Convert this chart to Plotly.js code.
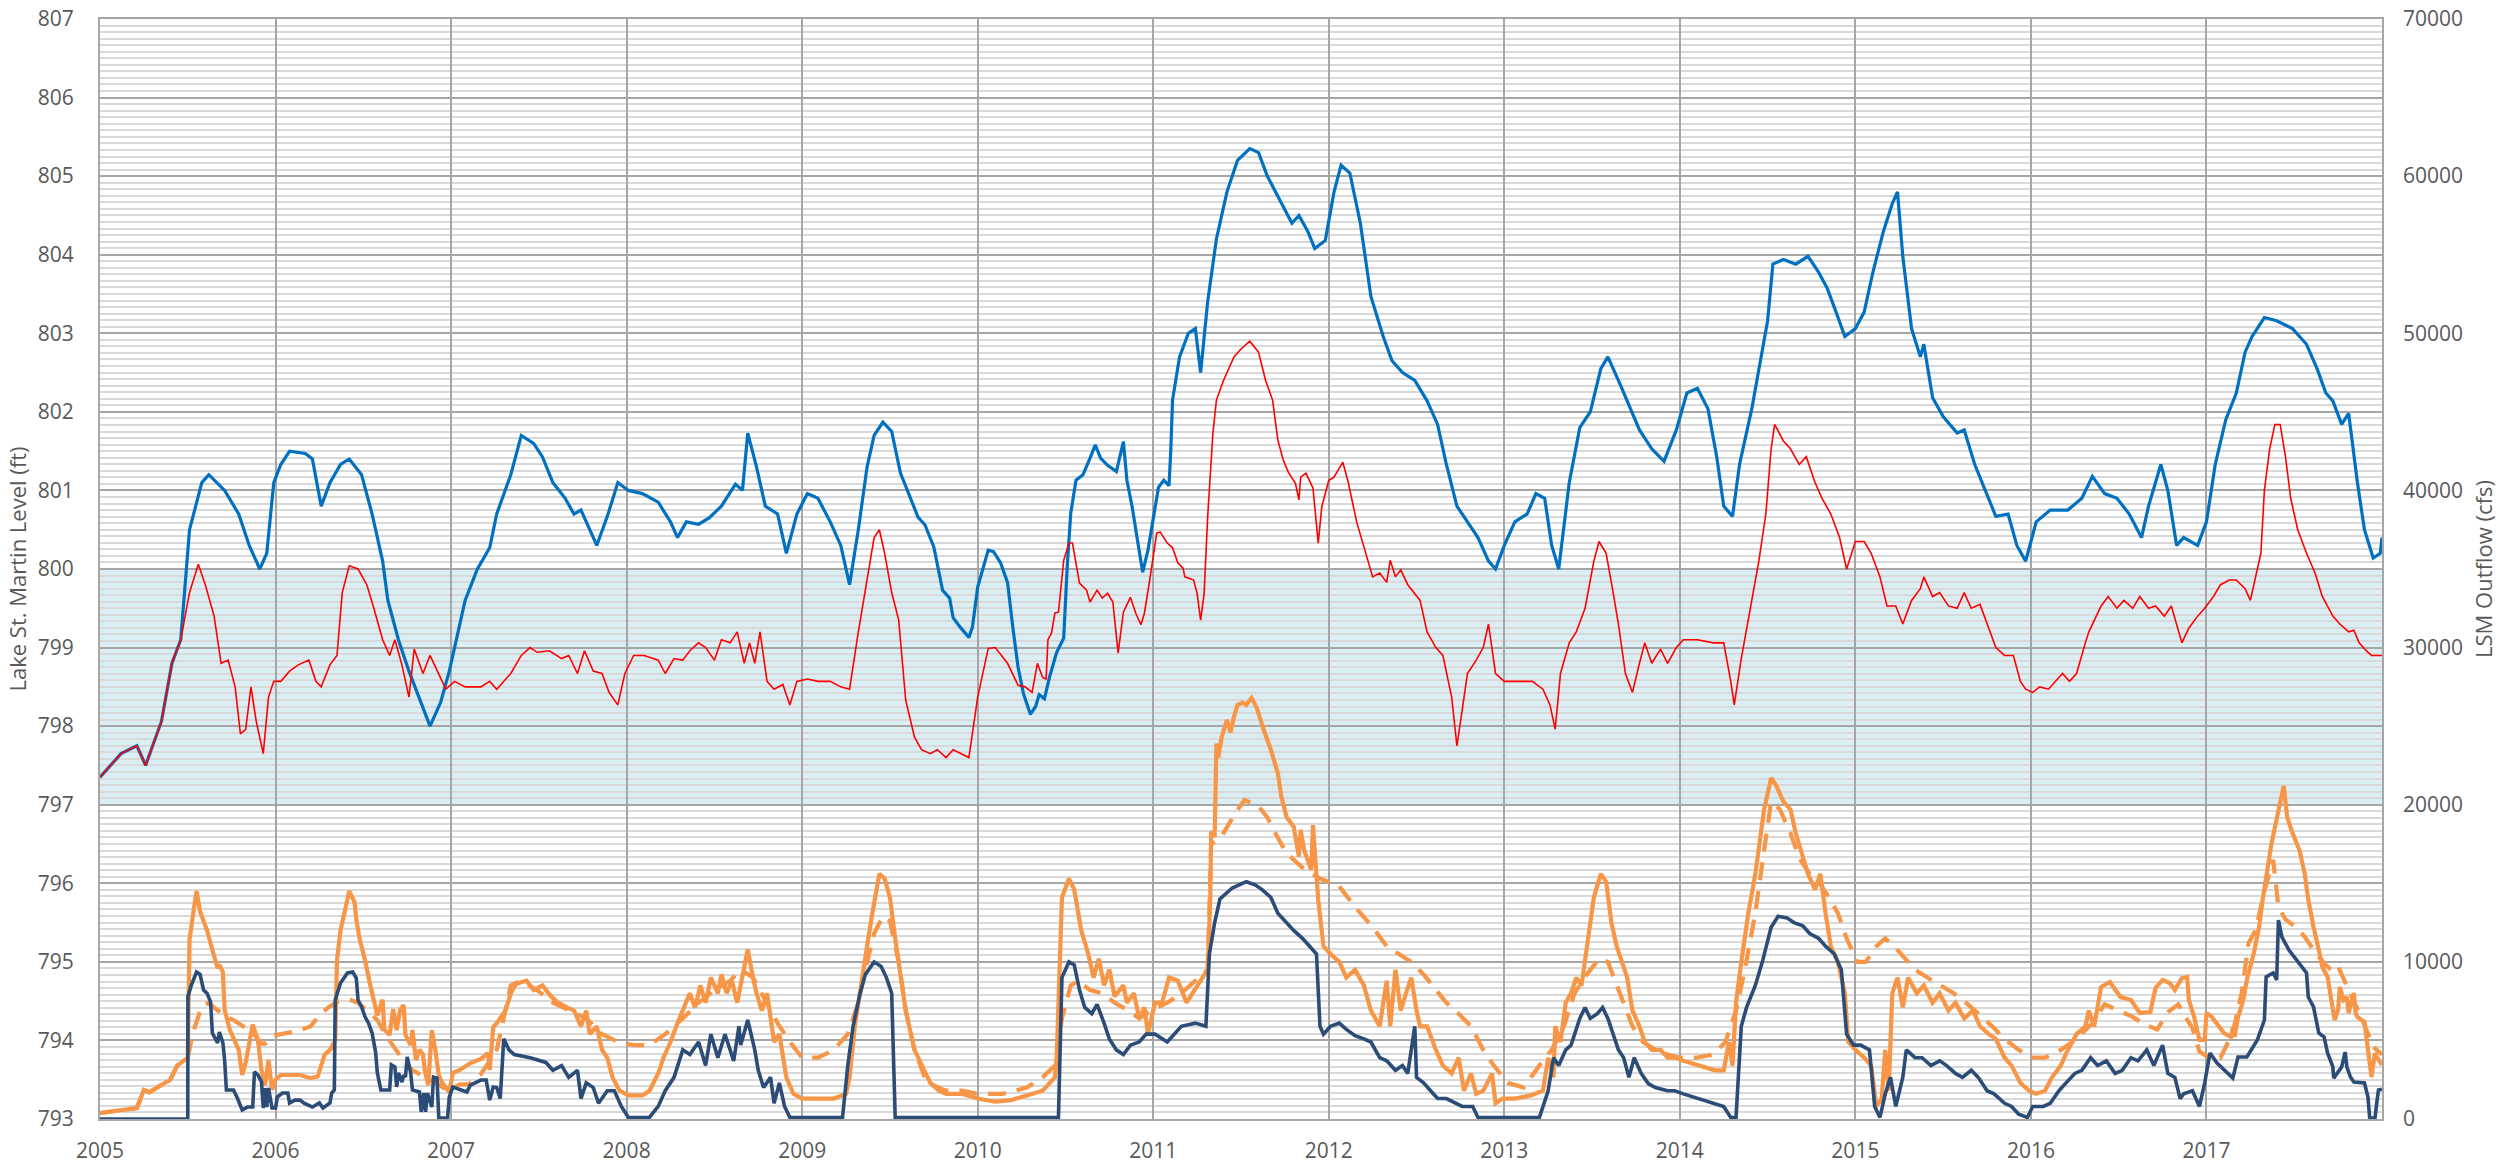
<!DOCTYPE html>
<html>
<head>
<meta charset="utf-8">
<script src="https://cdn.plot.ly/plotly-3.0.1.min.js"></script>
<style>
html,body{margin:0;padding:0;background:#fff;}
#chart{width:2513px;height:1176px;}
</style>
</head>
<body>
<div id="chart"></div>
<script>
// ---------- Data (decimal years; level in ft, outflow in cfs) ----------
const yearTicks = [2005,2006,2007,2008,2009,2010,2011,2012,2013,2014,2015,2016,2017];

// Lake St. Martin level – blue series
const blueT = [2005.00,2005.12,2005.21,2005.26,2005.30,2005.35,2005.41,2005.46,2005.51,2005.58,2005.62,2005.71,2005.79,2005.85,2005.91,2005.95,2005.99,2006.03,2006.08,2006.17,2006.21,2006.26,2006.31,2006.37,2006.42,2006.49,2006.55,2006.61,2006.64,2006.70,2006.76,2006.83,2006.88,2006.94,2006.99,2007.08,2007.15,2007.22,2007.26,2007.34,2007.40,2007.47,2007.52,2007.58,2007.65,2007.70,2007.74,2007.79,2007.83,2007.89,2007.95,2008.01,2008.09,2008.18,2008.25,2008.29,2008.34,2008.41,2008.47,2008.54,2008.62,2008.66,2008.69,2008.74,2008.79,2008.86,2008.91,2008.97,2009.03,2009.09,2009.16,2009.22,2009.27,2009.32,2009.37,2009.41,2009.46,2009.51,2009.56,2009.66,2009.70,2009.75,2009.80,2009.84,2009.86,2009.90,2009.95,2009.97,2010.00,2010.06,2010.09,2010.13,2010.17,2010.20,2010.23,2010.26,2010.30,2010.33,2010.35,2010.38,2010.41,2010.45,2010.49,2010.51,2010.53,2010.56,2010.60,2010.64,2010.67,2010.70,2010.74,2010.79,2010.81,2010.83,2010.85,2010.88,2010.91,2010.94,2010.97,2011.00,2011.03,2011.06,2011.09,2011.10,2011.11,2011.15,2011.20,2011.24,2011.27,2011.31,2011.36,2011.42,2011.48,2011.55,2011.60,2011.65,2011.72,2011.79,2011.83,2011.88,2011.92,2011.98,2012.03,2012.07,2012.12,2012.18,2012.24,2012.31,2012.36,2012.42,2012.49,2012.56,2012.62,2012.67,2012.73,2012.79,2012.85,2012.91,2012.95,2013.00,2013.06,2013.13,2013.18,2013.23,2013.27,2013.31,2013.37,2013.43,2013.49,2013.55,2013.59,2013.66,2013.70,2013.77,2013.84,2013.91,2013.98,2014.04,2014.10,2014.16,2014.21,2014.25,2014.30,2014.34,2014.41,2014.46,2014.50,2014.53,2014.59,2014.66,2014.73,2014.79,2014.84,2014.89,2014.94,2015.00,2015.05,2015.10,2015.16,2015.21,2015.24,2015.27,2015.32,2015.37,2015.39,2015.44,2015.50,2015.58,2015.62,2015.68,2015.76,2015.80,2015.87,2015.92,2015.97,2016.03,2016.11,2016.21,2016.29,2016.35,2016.42,2016.49,2016.56,2016.63,2016.67,2016.74,2016.78,2016.83,2016.87,2016.95,2017.00,2017.05,2017.11,2017.17,2017.22,2017.26,2017.33,2017.40,2017.49,2017.57,2017.63,2017.68,2017.72,2017.77,2017.81,2017.86,2017.90,2017.95,2017.99,2018.00];
const blueLevel = [797.35,797.65,797.75,797.50,797.75,798.06,798.80,799.10,800.50,801.10,801.20,801.00,800.70,800.30,800.00,800.20,801.10,801.33,801.50,801.47,801.40,800.80,801.10,801.33,801.40,801.20,800.70,800.10,799.60,799.10,798.70,798.30,798.00,798.30,798.70,799.60,800.00,800.27,800.70,801.20,801.70,801.60,801.43,801.10,800.90,800.70,800.75,800.50,800.30,800.67,801.10,801.00,800.96,800.85,800.60,800.40,800.60,800.57,800.65,800.80,801.08,801.00,801.73,801.30,800.80,800.70,800.20,800.70,800.96,800.90,800.60,800.30,799.80,800.50,801.30,801.70,801.87,801.75,801.22,800.66,800.56,800.28,799.73,799.63,799.38,799.26,799.13,799.26,799.77,800.24,800.22,800.08,799.83,799.26,798.75,798.42,798.15,798.25,798.40,798.35,798.63,798.94,799.12,800.03,800.71,801.13,801.20,801.41,801.58,801.41,801.32,801.24,801.45,801.62,801.13,800.79,800.37,799.96,800.24,800.62,801.04,801.13,801.06,801.51,802.15,802.70,803.00,803.06,802.50,803.40,804.20,804.80,805.20,805.35,805.30,805.00,804.70,804.40,804.50,804.30,804.08,804.18,804.80,805.14,805.04,804.40,803.47,802.96,802.65,802.50,802.40,802.14,801.84,801.33,800.80,800.60,800.40,800.10,800.00,800.30,800.60,800.70,800.96,800.90,800.30,800.00,801.10,801.80,802.00,802.55,802.70,802.35,802.14,801.77,801.53,801.37,801.77,802.24,802.30,802.04,801.43,800.80,800.67,801.33,802.04,802.65,803.16,803.88,803.94,803.88,803.98,803.78,803.57,803.27,802.96,803.06,803.27,803.78,804.30,804.65,804.80,803.98,803.06,802.70,802.86,802.18,801.94,801.73,801.77,801.33,800.90,800.67,800.70,800.30,800.10,800.60,800.75,800.75,800.90,801.18,800.96,800.90,800.70,800.40,800.80,801.33,801.00,800.30,800.40,800.30,800.60,801.33,801.90,802.24,802.76,802.96,803.20,803.16,803.06,802.86,802.55,802.24,802.14,801.84,801.98,801.10,800.50,800.14,800.20,800.40];

// Lake St. Martin level – red series
const redT = [2005.00,2005.12,2005.21,2005.26,2005.30,2005.35,2005.41,2005.46,2005.51,2005.56,2005.60,2005.65,2005.69,2005.73,2005.77,2005.80,2005.83,2005.86,2005.89,2005.93,2005.96,2005.99,2006.03,2006.08,2006.13,2006.19,2006.23,2006.26,2006.31,2006.35,2006.38,2006.42,2006.47,2006.52,2006.56,2006.61,2006.65,2006.68,2006.72,2006.76,2006.79,2006.84,2006.88,2006.93,2006.97,2007.02,2007.08,2007.17,2007.22,2007.26,2007.34,2007.40,2007.45,2007.49,2007.56,2007.63,2007.67,2007.72,2007.76,2007.81,2007.86,2007.90,2007.95,2007.99,2008.04,2008.10,2008.18,2008.22,2008.27,2008.32,2008.36,2008.41,2008.45,2008.50,2008.54,2008.59,2008.63,2008.67,2008.70,2008.73,2008.76,2008.80,2008.84,2008.89,2008.93,2008.97,2009.03,2009.09,2009.16,2009.22,2009.27,2009.32,2009.36,2009.41,2009.44,2009.47,2009.51,2009.55,2009.59,2009.64,2009.68,2009.73,2009.77,2009.82,2009.86,2009.91,2009.95,2010.00,2010.06,2010.10,2010.17,2010.23,2010.27,2010.31,2010.34,2010.37,2010.39,2010.40,2010.42,2010.44,2010.46,2010.49,2010.52,2010.54,2010.58,2010.62,2010.64,2010.68,2010.71,2010.74,2010.77,2010.80,2010.83,2010.87,2010.90,2010.93,2010.95,2010.98,2011.02,2011.04,2011.08,2011.11,2011.14,2011.17,2011.18,2011.23,2011.25,2011.27,2011.29,2011.31,2011.34,2011.36,2011.40,2011.46,2011.50,2011.55,2011.60,2011.64,2011.68,2011.71,2011.74,2011.77,2011.81,2011.83,2011.84,2011.87,2011.91,2011.94,2011.96,2012.00,2012.03,2012.08,2012.11,2012.16,2012.21,2012.25,2012.29,2012.33,2012.35,2012.38,2012.41,2012.45,2012.52,2012.56,2012.61,2012.65,2012.70,2012.73,2012.76,2012.79,2012.84,2012.88,2012.91,2012.95,2013.00,2013.06,2013.16,2013.22,2013.26,2013.29,2013.32,2013.37,2013.41,2013.46,2013.51,2013.54,2013.58,2013.62,2013.65,2013.69,2013.73,2013.77,2013.80,2013.84,2013.89,2013.93,2013.98,2014.02,2014.10,2014.19,2014.25,2014.29,2014.31,2014.35,2014.40,2014.45,2014.49,2014.52,2014.54,2014.59,2014.63,2014.68,2014.72,2014.77,2014.81,2014.86,2014.91,2014.95,2015.00,2015.05,2015.09,2015.14,2015.18,2015.23,2015.27,2015.32,2015.37,2015.39,2015.44,2015.48,2015.53,2015.58,2015.62,2015.66,2015.71,2015.76,2015.80,2015.85,2015.90,2015.94,2015.97,2016.01,2016.05,2016.10,2016.14,2016.18,2016.22,2016.26,2016.31,2016.33,2016.40,2016.44,2016.49,2016.53,2016.58,2016.62,2016.67,2016.71,2016.76,2016.80,2016.86,2016.90,2016.95,2016.99,2017.04,2017.08,2017.13,2017.17,2017.22,2017.25,2017.28,2017.31,2017.33,2017.36,2017.39,2017.42,2017.45,2017.48,2017.52,2017.57,2017.62,2017.66,2017.72,2017.76,2017.81,2017.84,2017.87,2017.91,2017.94,2018.00];
const redLevel = [797.35,797.65,797.75,797.50,797.75,798.06,798.80,799.10,799.70,800.06,799.80,799.40,798.80,798.84,798.50,797.90,797.96,798.50,798.06,797.65,798.37,798.57,798.57,798.70,798.78,798.84,798.57,798.50,798.78,798.90,799.70,800.04,800.00,799.80,799.50,799.10,798.90,799.10,798.78,798.37,798.98,798.67,798.90,798.67,798.47,798.57,798.50,798.50,798.57,798.47,798.67,798.90,799.00,798.94,798.96,798.86,798.90,798.67,798.96,798.70,798.67,798.43,798.27,798.67,798.90,798.90,798.84,798.67,798.86,798.84,798.96,799.06,799.00,798.84,799.10,799.06,799.20,798.80,799.06,798.80,799.20,798.57,798.47,798.53,798.27,798.57,798.60,798.57,798.57,798.50,798.47,799.20,799.76,800.40,800.50,800.20,799.70,799.35,798.33,797.86,797.70,797.65,797.70,797.60,797.70,797.65,797.60,798.37,798.99,799.00,798.80,798.52,798.50,798.43,798.80,798.62,798.60,799.10,799.18,799.44,799.45,800.11,800.33,800.33,799.82,799.73,799.58,799.73,799.63,799.69,799.58,798.93,799.45,799.64,799.44,799.29,799.44,799.86,800.46,800.47,800.33,800.27,800.08,800.01,799.90,799.86,799.69,799.35,799.69,800.66,801.73,802.15,802.40,802.70,802.80,802.90,802.76,802.40,802.15,801.64,801.39,801.23,801.09,800.88,801.17,801.22,801.03,800.33,800.79,801.13,801.17,801.36,801.11,800.59,800.20,799.90,799.95,799.83,800.11,799.90,799.99,799.80,799.60,799.20,799.00,798.90,798.37,797.75,798.20,798.67,798.84,799.00,799.30,798.67,798.57,798.57,798.57,798.47,798.27,797.96,798.67,799.06,799.20,799.50,800.10,800.35,800.20,799.70,799.30,798.67,798.43,798.80,799.06,798.80,798.98,798.80,799.00,799.10,799.10,799.06,799.06,798.57,798.27,798.86,799.50,800.10,800.70,801.53,801.84,801.63,801.53,801.33,801.43,801.10,800.90,800.70,800.40,800.00,800.35,800.35,800.20,799.90,799.53,799.53,799.30,799.60,799.75,799.90,799.65,799.70,799.53,799.50,799.70,799.50,799.55,799.25,799.00,798.90,798.90,798.57,798.47,798.43,798.50,798.47,798.57,798.67,798.57,798.67,799.06,799.20,799.53,799.65,799.50,799.60,799.50,799.65,799.50,799.53,799.40,799.53,799.06,799.25,799.40,799.50,799.65,799.80,799.86,799.86,799.75,799.60,799.90,800.20,801.00,801.53,801.84,801.84,801.43,800.90,800.50,800.20,799.94,799.65,799.40,799.30,799.20,799.22,799.06,798.96,798.90,798.90];

// LSM outflow – orange solid series
const orangeT = [2005.00,2005.21,2005.25,2005.28,2005.40,2005.44,2005.50,2005.51,2005.53,2005.55,2005.57,2005.61,2005.64,2005.66,2005.67,2005.68,2005.70,2005.71,2005.74,2005.79,2005.81,2005.83,2005.87,2005.90,2005.92,2005.94,2005.96,2005.98,2006.00,2006.03,2006.14,2006.20,2006.24,2006.28,2006.31,2006.34,2006.35,2006.37,2006.40,2006.42,2006.45,2006.46,2006.48,2006.51,2006.54,2006.57,2006.58,2006.61,2006.62,2006.65,2006.67,2006.69,2006.71,2006.73,2006.74,2006.77,2006.78,2006.80,2006.82,2006.84,2006.85,2006.87,2006.89,2006.91,2006.93,2006.95,2006.99,2007.01,2007.05,2007.11,2007.17,2007.21,2007.22,2007.24,2007.26,2007.31,2007.34,2007.37,2007.43,2007.47,2007.52,2007.57,2007.61,2007.66,2007.70,2007.74,2007.77,2007.79,2007.83,2007.86,2007.89,2007.92,2007.96,2008.01,2008.09,2008.13,2008.18,2008.21,2008.25,2008.29,2008.32,2008.36,2008.39,2008.42,2008.45,2008.48,2008.52,2008.54,2008.57,2008.60,2008.63,2008.66,2008.69,2008.72,2008.74,2008.77,2008.80,2008.84,2008.87,2008.91,2008.95,2009.00,2009.18,2009.25,2009.27,2009.30,2009.34,2009.37,2009.40,2009.44,2009.47,2009.50,2009.53,2009.56,2009.59,2009.64,2009.68,2009.73,2009.78,2009.82,2009.91,2010.00,2010.10,2010.19,2010.28,2010.37,2010.44,2010.45,2010.48,2010.52,2010.55,2010.59,2010.63,2010.66,2010.69,2010.72,2010.75,2010.78,2010.83,2010.85,2010.89,2010.92,2010.95,2010.97,2011.01,2011.05,2011.09,2011.14,2011.19,2011.25,2011.31,2011.325,2011.33,2011.35,2011.36,2011.37,2011.39,2011.42,2011.44,2011.46,2011.48,2011.51,2011.53,2011.56,2011.59,2011.63,2011.67,2011.71,2011.73,2011.76,2011.80,2011.83,2011.84,2011.86,2011.88,2011.90,2011.91,2011.93,2011.94,2011.97,2012.01,2012.06,2012.10,2012.15,2012.20,2012.24,2012.29,2012.33,2012.35,2012.38,2012.41,2012.44,2012.47,2012.50,2012.52,2012.56,2012.61,2012.65,2012.70,2012.74,2012.77,2012.81,2012.84,2012.88,2012.93,2012.95,2012.99,2013.06,2013.15,2013.22,2013.25,2013.28,2013.29,2013.32,2013.35,2013.38,2013.41,2013.44,2013.47,2013.51,2013.55,2013.58,2013.61,2013.64,2013.67,2013.70,2013.73,2013.77,2013.80,2013.84,2013.89,2013.93,2013.98,2014.02,2014.11,2014.20,2014.25,2014.28,2014.30,2014.32,2014.35,2014.39,2014.43,2014.48,2014.52,2014.55,2014.59,2014.63,2014.66,2014.70,2014.73,2014.77,2014.80,2014.83,2014.86,2014.90,2014.94,2014.96,2015.00,2015.05,2015.09,2015.12,2015.15,2015.17,2015.19,2015.21,2015.24,2015.27,2015.30,2015.35,2015.39,2015.44,2015.48,2015.53,2015.57,2015.62,2015.67,2015.71,2015.76,2015.80,2015.85,2015.89,2015.94,2015.99,2016.03,2016.08,2016.12,2016.17,2016.21,2016.26,2016.31,2016.33,2016.36,2016.40,2016.45,2016.51,2016.57,2016.62,2016.68,2016.71,2016.75,2016.79,2016.82,2016.86,2016.89,2016.90,2016.93,2016.96,2016.99,2017.00,2017.03,2017.10,2017.14,2017.15,2017.16,2017.18,2017.21,2017.23,2017.27,2017.30,2017.32,2017.37,2017.41,2017.44,2017.46,2017.49,2017.53,2017.56,2017.58,2017.60,2017.61,2017.64,2017.66,2017.69,2017.71,2017.72,2017.73,2017.75,2017.76,2017.78,2017.80,2017.81,2017.84,2017.85,2017.86,2017.90,2017.92,2017.93,2017.94,2017.96,2017.97,2018.00];
const orangeFlow = [380,700,1850,1700,2500,3400,3900,11400,13000,14500,13200,12000,10750,9800,9600,9800,9350,6950,5660,4400,2800,3600,6000,5000,3100,2150,3750,1850,2500,2800,2800,2600,2700,4100,4400,5000,10100,12000,13600,14500,13800,12700,11400,10100,8500,6950,6600,7600,5700,5350,7000,5660,6950,7250,5350,4700,5660,3750,4400,4100,3100,2150,5660,4400,2800,2300,1700,2930,3120,3560,3820,4200,3120,5850,6100,6900,8000,8600,8800,8200,8500,7800,7400,7100,6900,5900,6900,5400,5900,4400,3900,2650,1800,1500,1500,1800,2900,3900,4900,6100,6900,8000,7100,8500,7400,9000,8000,9200,8000,8800,7400,9000,10800,9000,8000,6900,8000,4900,5400,2650,1600,1300,1300,1600,2650,5900,9000,11000,13100,15600,15300,14100,11500,9000,6900,4400,3400,2300,1800,1600,1600,1300,1100,1200,1500,1800,2650,3900,14100,15300,14600,12000,10500,9000,10200,8500,9500,7800,8500,7400,8000,6400,7100,5400,7400,7400,9000,8800,7400,8500,9500,14060,18300,17950,23900,23000,24300,25400,24600,25600,26350,26500,26350,26800,26150,24750,23500,22000,20500,19200,18600,16700,18400,17100,16500,15850,18700,15850,13940,11000,10500,10000,9000,9500,8500,6900,5900,8800,5900,9500,6900,8000,9000,6900,5900,5900,4400,3400,2900,3900,1800,2900,1600,1800,2900,1000,1300,1300,1500,1800,3900,2650,5900,4900,7400,8000,9000,8500,11000,14100,15600,15100,12500,11000,10000,9000,6900,5900,4900,4400,4400,3900,3900,3700,3400,3100,3100,4900,3400,7400,10000,13100,15600,19700,21700,21200,20200,19700,18200,16600,15600,14600,15600,13100,11000,10000,8000,4900,4400,3900,3400,800,1300,4400,1800,8000,9000,7100,9000,8000,8500,7400,8000,6900,7400,6400,6900,5900,5400,5100,3900,3400,2300,1800,1600,1800,2650,3400,4400,5400,5900,6900,5900,8400,8720,7760,7570,6750,6810,8340,8850,8650,8210,8970,9040,7570,6490,5030,5030,6750,6500,5470,5220,5850,5220,6490,7570,8850,10560,12220,13940,17500,19500,21200,19200,18200,17100,15600,13940,12660,12220,10750,9670,9040,7760,7130,6300,6940,8400,7570,7760,6750,8020,6750,6490,6170,4390,3120,2670,4200,3950,3440];

// LSM outflow – orange dashed series
const dashT = [2005.00,2005.21,2005.25,2005.28,2005.40,2005.44,2005.50,2005.53,2005.58,2005.62,2005.66,2005.72,2005.76,2005.82,2005.87,2005.92,2005.94,2005.98,2006.03,2006.13,2006.20,2006.25,2006.30,2006.36,2006.42,2006.47,2006.53,2006.58,2006.63,2006.68,2006.73,2006.78,2006.85,2006.93,2006.98,2007.05,2007.10,2007.17,2007.26,2007.34,2007.40,2007.49,2007.58,2007.67,2007.77,2007.86,2007.95,2008.04,2008.13,2008.22,2008.32,2008.41,2008.50,2008.59,2008.65,2008.72,2008.80,2008.86,2008.93,2009.00,2009.09,2009.18,2009.26,2009.32,2009.36,2009.41,2009.46,2009.50,2009.55,2009.59,2009.64,2009.71,2009.82,2009.91,2010.00,2010.14,2010.28,2010.37,2010.44,2010.48,2010.53,2010.57,2010.64,2010.71,2010.78,2010.86,2010.92,2010.99,2011.08,2011.16,2011.26,2011.31,2011.33,2011.39,2011.47,2011.52,2011.60,2011.65,2011.69,2011.76,2011.85,2011.95,2012.06,2012.15,2012.25,2012.33,2012.40,2012.47,2012.54,2012.61,2012.67,2012.74,2012.81,2012.88,2012.94,2013.02,2013.11,2013.20,2013.27,2013.34,2013.40,2013.47,2013.54,2013.59,2013.66,2013.73,2013.79,2013.86,2013.93,2014.00,2014.09,2014.19,2014.26,2014.32,2014.37,2014.43,2014.48,2014.52,2014.57,2014.63,2014.68,2014.74,2014.79,2014.85,2014.90,2014.95,2015.01,2015.06,2015.12,2015.17,2015.22,2015.28,2015.34,2015.41,2015.48,2015.56,2015.63,2015.70,2015.78,2015.85,2015.93,2016.00,2016.08,2016.17,2016.26,2016.35,2016.42,2016.50,2016.58,2016.65,2016.72,2016.78,2016.84,2016.88,2016.92,2016.96,2017.00,2017.08,2017.15,2017.20,2017.24,2017.28,2017.33,2017.38,2017.41,2017.45,2017.50,2017.56,2017.62,2017.68,2017.72,2017.75,2017.80,2017.85,2017.90,2017.95,2018.00];
const dashFlow = [380,700,1850,1700,2500,3400,3900,5500,7200,7400,7000,6500,6300,5900,5500,4800,4800,5300,5400,5600,5900,6600,7100,7500,7600,7400,6800,6300,5300,4500,3700,3100,2700,2200,1800,2200,2200,2850,4400,8500,8800,8200,7400,6900,6400,5400,4900,4700,4700,5400,6400,7400,8200,8800,9500,9000,7400,6100,4900,3900,3900,4400,5400,7400,9500,11800,12900,12600,10000,6900,4400,2300,1800,1800,1600,1600,2000,2650,3400,6400,8500,8800,8200,8000,7400,6900,6400,6900,7400,8000,9000,9500,17500,18000,19500,20300,19900,19200,18300,16900,16000,15300,14800,13500,12200,11000,10500,10000,9200,8200,7400,6700,5900,4400,3400,2300,2000,3400,4400,5900,8000,9200,10200,10000,8000,5900,4900,4400,4100,3900,3900,4100,4900,6900,9500,13100,17100,20200,19700,18200,16600,15600,15100,14100,13100,11500,10000,10000,11000,11500,11000,10200,9500,9000,8500,8000,7400,6700,5900,5100,4400,3900,3900,4400,5100,6100,7300,6900,6500,6000,5700,6800,7300,6500,5800,4300,4000,3900,5500,8000,11200,12000,14500,16500,13500,12700,12300,11600,10600,9800,9400,9700,8500,7300,6000,4600,4100];

// LSM outflow – dark navy series
const navyT = [2005.00,2005.50,2005.501,2005.52,2005.55,2005.57,2005.59,2005.61,2005.63,2005.64,2005.67,2005.68,2005.70,2005.71,2005.72,2005.76,2005.78,2005.81,2005.84,2005.87,2005.88,2005.90,2005.92,2005.93,2005.94,2005.95,2005.96,2005.98,2006.00,2006.01,2006.04,2006.07,2006.08,2006.11,2006.14,2006.16,2006.21,2006.25,2006.27,2006.31,2006.32,2006.335,2006.34,2006.37,2006.41,2006.44,2006.46,2006.47,2006.49,2006.51,2006.53,2006.55,2006.57,2006.58,2006.60,2006.65,2006.66,2006.68,2006.69,2006.70,2006.72,2006.73,2006.74,2006.75,2006.77,2006.78,2006.82,2006.83,2006.845,2006.855,2006.865,2006.89,2006.90,2006.92,2006.93,2006.98,2006.99,2007.01,2007.09,2007.11,2007.17,2007.20,2007.22,2007.24,2007.26,2007.28,2007.30,2007.33,2007.36,2007.45,2007.54,2007.58,2007.63,2007.67,2007.72,2007.74,2007.77,2007.81,2007.84,2007.89,2007.93,2007.97,2008.01,2008.13,2008.18,2008.22,2008.27,2008.32,2008.36,2008.41,2008.45,2008.48,2008.52,2008.56,2008.61,2008.64,2008.65,2008.69,2008.73,2008.75,2008.78,2008.82,2008.84,2008.87,2008.90,2008.93,2009.23,2009.26,2009.29,2009.33,2009.36,2009.41,2009.45,2009.48,2009.51,2009.53,2010.46,2010.48,2010.52,2010.55,2010.58,2010.61,2010.65,2010.68,2010.72,2010.75,2010.79,2010.83,2010.87,2010.92,2010.96,2011.01,2011.08,2011.16,2011.24,2011.30,2011.32,2011.35,2011.38,2011.45,2011.53,2011.58,2011.62,2011.67,2011.71,2011.76,2011.80,2011.85,2011.89,2011.93,2011.95,2011.97,2012.01,2012.06,2012.10,2012.15,2012.20,2012.24,2012.29,2012.33,2012.38,2012.42,2012.45,2012.49,2012.50,2012.54,2012.58,2012.62,2012.67,2012.72,2012.76,2012.82,2012.85,2013.20,2013.22,2013.25,2013.28,2013.31,2013.35,2013.38,2013.43,2013.46,2013.49,2013.53,2013.56,2013.59,2013.62,2013.65,2013.68,2013.71,2013.74,2013.78,2013.82,2013.86,2013.93,2013.97,2014.02,2014.11,2014.20,2014.25,2014.29,2014.32,2014.35,2014.38,2014.43,2014.47,2014.52,2014.56,2014.61,2014.65,2014.70,2014.74,2014.79,2014.83,2014.88,2014.92,2014.95,2014.99,2015.03,2015.08,2015.11,2015.14,2015.17,2015.20,2015.23,2015.27,2015.29,2015.34,2015.38,2015.43,2015.48,2015.52,2015.57,2015.61,2015.66,2015.70,2015.75,2015.79,2015.85,2015.89,2015.93,2015.98,2016.01,2016.07,2016.11,2016.16,2016.20,2016.25,2016.29,2016.34,2016.38,2016.43,2016.48,2016.52,2016.57,2016.61,2016.66,2016.70,2016.75,2016.78,2016.82,2016.85,2016.87,2016.92,2016.96,2016.99,2017.02,2017.06,2017.15,2017.18,2017.23,2017.29,2017.33,2017.34,2017.38,2017.40,2017.41,2017.43,2017.47,2017.57,2017.58,2017.61,2017.64,2017.67,2017.69,2017.72,2017.725,2017.75,2017.77,2017.79,2017.80,2017.82,2017.84,2017.90,2017.92,2017.93,2017.96,2017.97,2017.98,2018.00];
const navyFlow = [0,0,7800,8500,9350,9200,8200,8000,7450,5470,4840,5540,4840,3750,1850,1850,1400,570,760,760,3000,2800,2350,700,1970,760,1970,700,700,1400,1650,1650,1020,1200,1200,1020,760,1020,700,1020,1650,1850,7570,8650,9300,9350,8970,7570,7130,6500,6100,5470,4260,2930,1850,1850,3440,3300,2040,2930,2350,2800,2670,3950,2930,1850,1720,450,1650,450,1650,760,2670,2600,60,60,1400,2040,1720,2160,2480,2480,1200,2040,2000,1300,5100,4400,4100,3900,3600,3100,3400,2650,3100,1300,2300,2000,1000,1800,1800,800,100,100,800,1800,2650,4400,4100,4900,3400,5400,3900,5400,3700,5900,4700,6300,4400,3100,2000,2650,1000,2300,800,100,100,3400,5900,8000,9200,10000,9700,9000,8000,100,100,9000,10000,9800,8200,7100,6700,7300,6100,5100,4400,4100,4700,4900,5400,5400,4900,5900,6100,5900,10500,12500,14000,14700,15100,14900,14600,14100,13100,12500,12000,11500,11000,10500,5900,5400,5900,6100,5700,5300,5100,4900,3900,3700,3100,3400,2900,5900,2650,2300,1800,1300,1300,1000,800,800,100,100,800,1800,3900,3400,4400,4700,6400,7100,6400,6700,7100,6400,5400,4400,3900,2650,3900,2900,2250,2000,1800,1800,1600,1300,1000,800,100,100,5900,7100,8500,10000,12200,12900,12800,12500,12300,11800,11500,11000,10500,9500,5400,4700,4700,4400,800,100,1600,2650,800,2650,4400,3900,3900,3400,3700,3400,2900,2650,3100,2650,1800,1600,1000,800,300,100,800,800,1000,1800,2300,2900,3100,3900,3400,3700,2900,3100,3900,3700,4400,3400,4700,2900,2650,1300,1600,1800,800,2300,4200,3560,2600,3950,3950,5030,6300,9040,9290,8850,12660,11580,10750,9290,7760,7130,5470,5220,4200,3310,2600,3000,3310,4260,3310,2670,2350,2290,1400,60,60,1020,1850,1900];

// ---------- Traces ----------
const traces = [
  {x: blueT, y: blueLevel, yaxis: 'y', type: 'scatter', mode: 'lines', name: 'Lake St. Martin Level',
   line: {color: '#0070c0', width: 3.2}},
  {x: redT, y: redLevel, yaxis: 'y', type: 'scatter', mode: 'lines', name: 'Lake St. Martin Level (alt.)',
   line: {color: '#ff0000', width: 1.6}},
  {x: dashT, y: dashFlow, yaxis: 'y2', type: 'scatter', mode: 'lines', name: 'LSM Outflow (alt. 2)',
   line: {color: '#f79646', width: 4.2, dash: '18px,11px'}},
  {x: orangeT, y: orangeFlow, yaxis: 'y2', type: 'scatter', mode: 'lines', name: 'LSM Outflow',
   line: {color: '#f79646', width: 4.2}},
  {x: navyT, y: navyFlow, yaxis: 'y2', type: 'scatter', mode: 'lines', name: 'LSM Outflow (alt.)',
   line: {color: '#2b4c76', width: 3.6}}
];

const tickFont = {family: 'Open Sans, sans-serif', size: 21, color: '#595959'};
const titleFont = {family: 'Open Sans, sans-serif', size: 22, color: '#595959'};

const layout = {
  width: 2513, height: 1176,
  margin: {l: 100, r: 131, t: 19, b: 57, pad: 0},
  paper_bgcolor: '#ffffff', plot_bgcolor: '#ffffff',
  showlegend: false,
  font: tickFont,
  xaxis: {
    range: [2005, 2018], tickvals: yearTicks, ticktext: yearTicks.map(String),
    showgrid: true, gridcolor: '#a6a6a6', gridwidth: 2,
    showline: true, mirror: true, linecolor: '#a6a6a6', linewidth: 2,
    zeroline: false, ticks: '', ticklabelstandoff: 12, tickfont: tickFont
  },
  yaxis: {
    range: [793, 807], tick0: 793, dtick: 1,
    showgrid: true, gridcolor: '#a6a6a6', gridwidth: 2,
    minor: {tick0: 793, dtick: 1/12, showgrid: true, gridcolor: '#d9d9d9', gridwidth: 2, ticks: ''},
    showline: true, mirror: true, linecolor: '#a6a6a6', linewidth: 2,
    zeroline: false, ticks: '', ticklabelstandoff: 20, tickfont: tickFont,
    title: {text: 'Lake St. Martin Level (ft)', font: titleFont, standoff: 5}
  },
  yaxis2: {
    range: [0, 70000], tick0: 0, dtick: 10000, tickformat: 'd',
    overlaying: 'y', side: 'right', showgrid: false, zeroline: false, showline: false,
    ticks: '', ticklabelstandoff: 20, tickfont: tickFont,
    title: {text: 'LSM Outflow (cfs)', font: titleFont, standoff: 14}
  },
  shapes: [{
    type: 'rect', xref: 'paper', x0: 0, x1: 1, yref: 'y', y0: 797, y1: 800,
    fillcolor: '#dbeef4', line: {width: 0}, layer: 'below'
  }]
};

Plotly.newPlot('chart', traces, layout, {staticPlot: true, displayModeBar: false});
</script>
</body>
</html>
